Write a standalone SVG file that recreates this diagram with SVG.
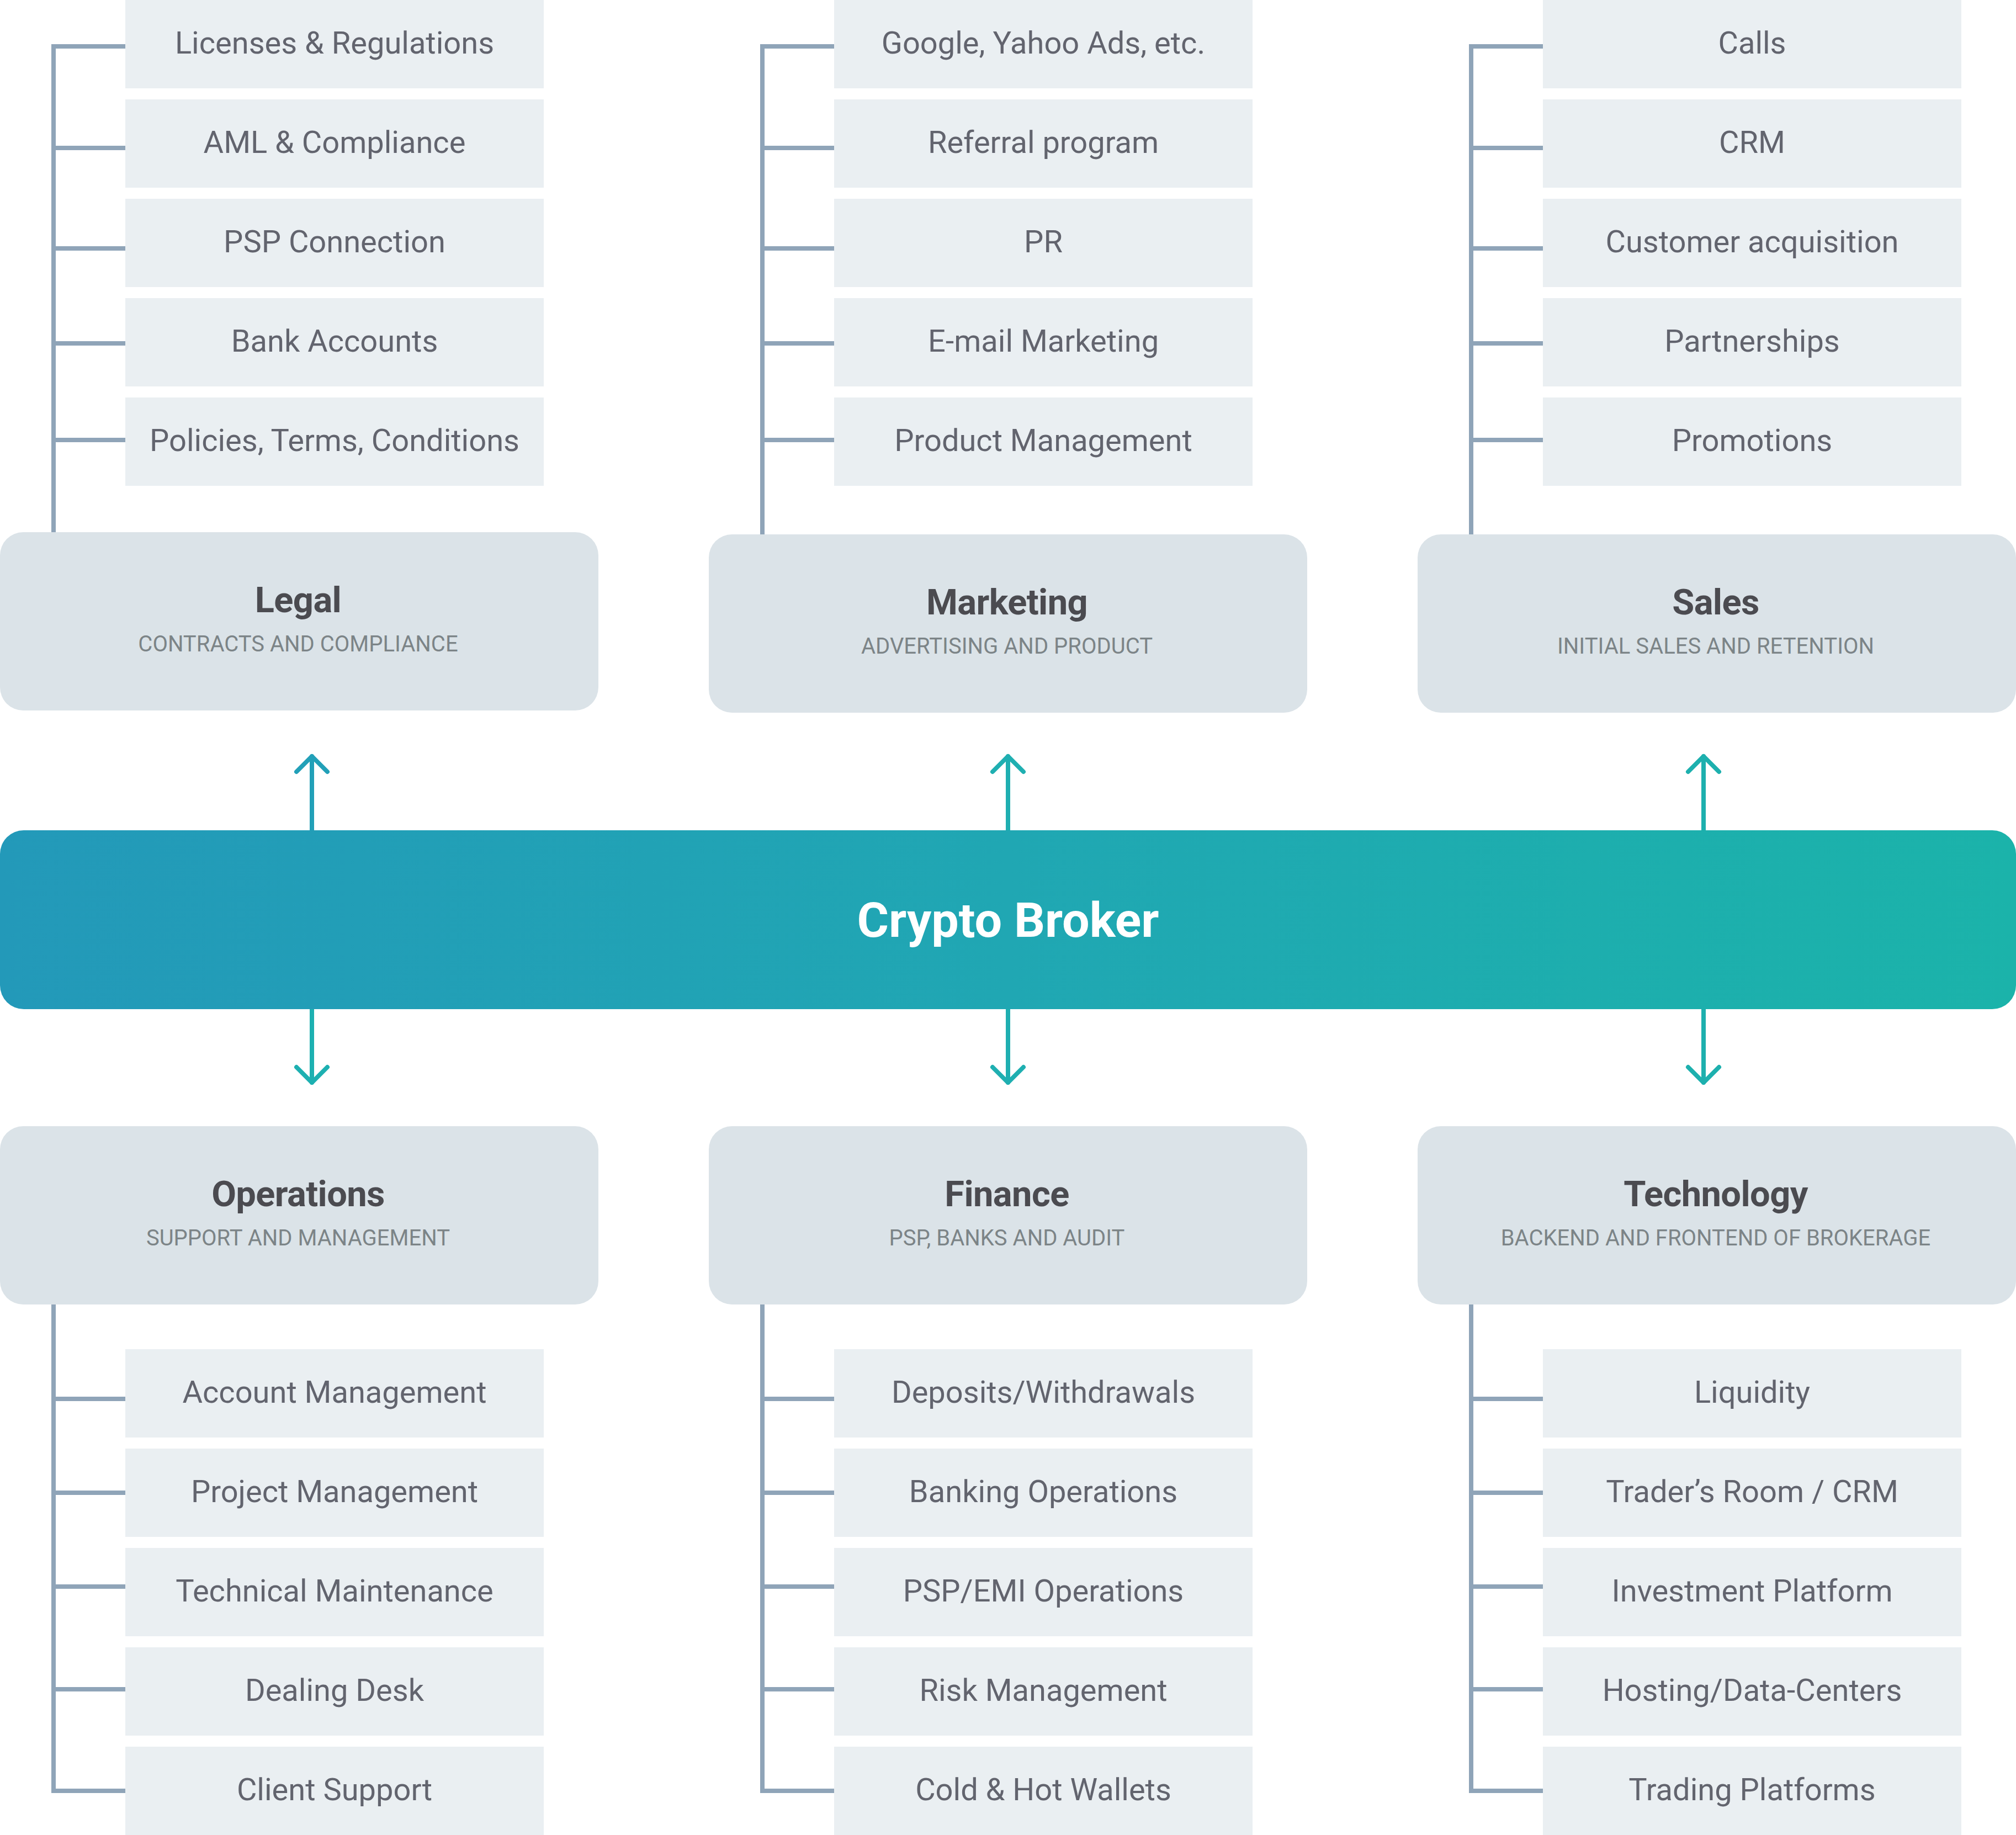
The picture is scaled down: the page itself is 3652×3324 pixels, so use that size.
<svg xmlns="http://www.w3.org/2000/svg" width="3652" height="3324" viewBox="0 0 3652 3324">
<defs>
<linearGradient id="barGrad" x1="0" y1="0" x2="3652" y2="0" gradientUnits="userSpaceOnUse">
<stop offset="0" stop-color="#2399b9"/>
<stop offset="0.5" stop-color="#20a7b3"/>
<stop offset="1" stop-color="#1bb3aa"/>
</linearGradient>
<style>
.item{fill:#eaeff2}
.itxt{font-family:Roboto,"Liberation Sans",sans-serif;font-size:56px;fill:#62646e;text-anchor:middle}
.head{fill:#dbe3e8}
.title{font-family:Roboto,"Liberation Sans",sans-serif;font-size:65px;font-weight:700;letter-spacing:-0.6px;fill:#4b4b50;text-anchor:middle}
.sub{font-family:Roboto,"Liberation Sans",sans-serif;font-size:40px;fill:#7c8487;text-anchor:middle}
.br{fill:none;stroke:#8fa4b8;stroke-width:8;stroke-linejoin:miter;stroke-linecap:butt}
.arr{fill:none;stroke-width:8;stroke-linecap:round;stroke-linejoin:round}
.main{font-family:Roboto,"Liberation Sans",sans-serif;font-size:88px;font-weight:700;fill:#ffffff;text-anchor:middle}
</style>
</defs>
<rect width="3652" height="3324" fill="#ffffff"/>

<g id="connectors">
<!-- Legal bracket -->
<polyline class="br" points="227,84 97,84 97,964"/>
<line class="br" x1="97" y1="268" x2="227" y2="268"/>
<line class="br" x1="97" y1="450" x2="227" y2="450"/>
<line class="br" x1="97" y1="622" x2="227" y2="622"/>
<line class="br" x1="97" y1="797" x2="227" y2="797"/>
<!-- Marketing bracket -->
<polyline class="br" points="1511,84 1381,84 1381,968"/>
<line class="br" x1="1381" y1="268" x2="1511" y2="268"/>
<line class="br" x1="1381" y1="450" x2="1511" y2="450"/>
<line class="br" x1="1381" y1="622" x2="1511" y2="622"/>
<line class="br" x1="1381" y1="797" x2="1511" y2="797"/>
<!-- Sales bracket -->
<polyline class="br" points="2795,84 2665,84 2665,968"/>
<line class="br" x1="2665" y1="268" x2="2795" y2="268"/>
<line class="br" x1="2665" y1="450" x2="2795" y2="450"/>
<line class="br" x1="2665" y1="622" x2="2795" y2="622"/>
<line class="br" x1="2665" y1="797" x2="2795" y2="797"/>
<!-- Operations bracket -->
<polyline class="br" points="97,2363 97,3244 227,3244"/>
<line class="br" x1="97" y1="2534" x2="227" y2="2534"/>
<line class="br" x1="97" y1="2704" x2="227" y2="2704"/>
<line class="br" x1="97" y1="2874" x2="227" y2="2874"/>
<line class="br" x1="97" y1="3060" x2="227" y2="3060"/>
<!-- Finance bracket -->
<polyline class="br" points="1381,2363 1381,3244 1511,3244"/>
<line class="br" x1="1381" y1="2534" x2="1511" y2="2534"/>
<line class="br" x1="1381" y1="2704" x2="1511" y2="2704"/>
<line class="br" x1="1381" y1="2874" x2="1511" y2="2874"/>
<line class="br" x1="1381" y1="3060" x2="1511" y2="3060"/>
<!-- Technology bracket -->
<polyline class="br" points="2665,2363 2665,3244 2795,3244"/>
<line class="br" x1="2665" y1="2534" x2="2795" y2="2534"/>
<line class="br" x1="2665" y1="2704" x2="2795" y2="2704"/>
<line class="br" x1="2665" y1="2874" x2="2795" y2="2874"/>
<line class="br" x1="2665" y1="3060" x2="2795" y2="3060"/>
<!-- Arrows -->
<g class="arr" stroke="#22a0b8">
<line x1="565" y1="1504" x2="565" y2="1370"/>
<polyline points="537,1398 565,1370 593,1398"/>
</g>
<g class="arr" stroke="#1db0b1">
<line x1="565" y1="1828" x2="565" y2="1961"/>
<polyline points="537,1933 565,1961 593,1933"/>
</g>
<g class="arr" stroke="#1fafb1">
<line x1="1826" y1="1504" x2="1826" y2="1370"/>
<polyline points="1798,1398 1826,1370 1854,1398"/>
<line x1="1826" y1="1828" x2="1826" y2="1961"/>
<polyline points="1798,1933 1826,1961 1854,1933"/>
</g>
<g class="arr" stroke="#1db0ae">
<line x1="3086" y1="1504" x2="3086" y2="1370"/>
<polyline points="3058,1398 3086,1370 3114,1398"/>
<line x1="3086" y1="1828" x2="3086" y2="1961"/>
<polyline points="3058,1933 3086,1961 3114,1933"/>
</g>
</g>

<g id="crypto-broker">
<rect x="0" y="1504" width="3652" height="324" rx="43" fill="url(#barGrad)"/>
<text class="main" x="1826" y="1697">Crypto Broker</text>
</g>

<g id="legal">
<rect class="head" x="0" y="964" width="1084" height="323" rx="42"/>
<text class="title" x="540" y="1109">Legal</text>
<text class="sub" x="540" y="1180">CONTRACTS AND COMPLIANCE</text>
</g>
<g id="marketing">
<rect class="head" x="1284" y="968" width="1084" height="323" rx="42"/>
<text class="title" x="1824" y="1113">Marketing</text>
<text class="sub" x="1824" y="1184">ADVERTISING AND PRODUCT</text>
</g>
<g id="sales">
<rect class="head" x="2568" y="968" width="1084" height="323" rx="42"/>
<text class="title" x="3108" y="1113">Sales</text>
<text class="sub" x="3108" y="1184">INITIAL SALES AND RETENTION</text>
</g>
<g id="operations">
<rect class="head" x="0" y="2040" width="1084" height="323" rx="42"/>
<text class="title" x="540" y="2185">Operations</text>
<text class="sub" x="540" y="2256">SUPPORT AND MANAGEMENT</text>
</g>
<g id="finance">
<rect class="head" x="1284" y="2040" width="1084" height="323" rx="42"/>
<text class="title" x="1824" y="2185">Finance</text>
<text class="sub" x="1824" y="2256">PSP, BANKS AND AUDIT</text>
</g>
<g id="technology">
<rect class="head" x="2568" y="2040" width="1084" height="323" rx="42"/>
<text class="title" x="3108" y="2185">Technology</text>
<text class="sub" x="3108" y="2256">BACKEND AND FRONTEND OF BROKERAGE</text>
</g>

<!-- Legal items -->
<g id="legal-1"><rect class="item" x="227" y="0" width="758" height="160"/><text class="itxt" x="606" y="97">Licenses &amp; Regulations</text></g>
<g id="legal-2"><rect class="item" x="227" y="180" width="758" height="160"/><text class="itxt" x="606" y="277">AML &amp; Compliance</text></g>
<g id="legal-3"><rect class="item" x="227" y="360" width="758" height="160"/><text class="itxt" x="606" y="457">PSP Connection</text></g>
<g id="legal-4"><rect class="item" x="227" y="540" width="758" height="160"/><text class="itxt" x="606" y="637">Bank Accounts</text></g>
<g id="legal-5"><rect class="item" x="227" y="720" width="758" height="160"/><text class="itxt" x="606" y="817">Policies, Terms, Conditions</text></g>

<!-- Marketing items -->
<g id="marketing-1"><rect class="item" x="1511" y="0" width="758" height="160"/><text class="itxt" x="1890" y="97">Google, Yahoo Ads, etc.</text></g>
<g id="marketing-2"><rect class="item" x="1511" y="180" width="758" height="160"/><text class="itxt" x="1890" y="277">Referral program</text></g>
<g id="marketing-3"><rect class="item" x="1511" y="360" width="758" height="160"/><text class="itxt" x="1890" y="457">PR</text></g>
<g id="marketing-4"><rect class="item" x="1511" y="540" width="758" height="160"/><text class="itxt" x="1890" y="637">E-mail Marketing</text></g>
<g id="marketing-5"><rect class="item" x="1511" y="720" width="758" height="160"/><text class="itxt" x="1890" y="817">Product Management</text></g>

<!-- Sales items -->
<g id="sales-1"><rect class="item" x="2795" y="0" width="758" height="160"/><text class="itxt" x="3174" y="97">Calls</text></g>
<g id="sales-2"><rect class="item" x="2795" y="180" width="758" height="160"/><text class="itxt" x="3174" y="277">CRM</text></g>
<g id="sales-3"><rect class="item" x="2795" y="360" width="758" height="160"/><text class="itxt" x="3174" y="457">Customer acquisition</text></g>
<g id="sales-4"><rect class="item" x="2795" y="540" width="758" height="160"/><text class="itxt" x="3174" y="637">Partnerships</text></g>
<g id="sales-5"><rect class="item" x="2795" y="720" width="758" height="160"/><text class="itxt" x="3174" y="817">Promotions</text></g>

<!-- Operations items -->
<g id="operations-1"><rect class="item" x="227" y="2444" width="758" height="160"/><text class="itxt" x="606" y="2541">Account Management</text></g>
<g id="operations-2"><rect class="item" x="227" y="2624" width="758" height="160"/><text class="itxt" x="606" y="2721">Project Management</text></g>
<g id="operations-3"><rect class="item" x="227" y="2804" width="758" height="160"/><text class="itxt" x="606" y="2901">Technical Maintenance</text></g>
<g id="operations-4"><rect class="item" x="227" y="2984" width="758" height="160"/><text class="itxt" x="606" y="3081">Dealing Desk</text></g>
<g id="operations-5"><rect class="item" x="227" y="3164" width="758" height="160"/><text class="itxt" x="606" y="3261">Client Support</text></g>

<!-- Finance items -->
<g id="finance-1"><rect class="item" x="1511" y="2444" width="758" height="160"/><text class="itxt" x="1890" y="2541">Deposits/Withdrawals</text></g>
<g id="finance-2"><rect class="item" x="1511" y="2624" width="758" height="160"/><text class="itxt" x="1890" y="2721">Banking Operations</text></g>
<g id="finance-3"><rect class="item" x="1511" y="2804" width="758" height="160"/><text class="itxt" x="1890" y="2901">PSP/EMI Operations</text></g>
<g id="finance-4"><rect class="item" x="1511" y="2984" width="758" height="160"/><text class="itxt" x="1890" y="3081">Risk Management</text></g>
<g id="finance-5"><rect class="item" x="1511" y="3164" width="758" height="160"/><text class="itxt" x="1890" y="3261">Cold &amp; Hot Wallets</text></g>

<!-- Technology items -->
<g id="technology-1"><rect class="item" x="2795" y="2444" width="758" height="160"/><text class="itxt" x="3174" y="2541">Liquidity</text></g>
<g id="technology-2"><rect class="item" x="2795" y="2624" width="758" height="160"/><text class="itxt" x="3174" y="2721">Trader’s Room / CRM</text></g>
<g id="technology-3"><rect class="item" x="2795" y="2804" width="758" height="160"/><text class="itxt" x="3174" y="2901">Investment Platform</text></g>
<g id="technology-4"><rect class="item" x="2795" y="2984" width="758" height="160"/><text class="itxt" x="3174" y="3081">Hosting/Data-Centers</text></g>
<g id="technology-5"><rect class="item" x="2795" y="3164" width="758" height="160"/><text class="itxt" x="3174" y="3261">Trading Platforms</text></g>
</svg>
